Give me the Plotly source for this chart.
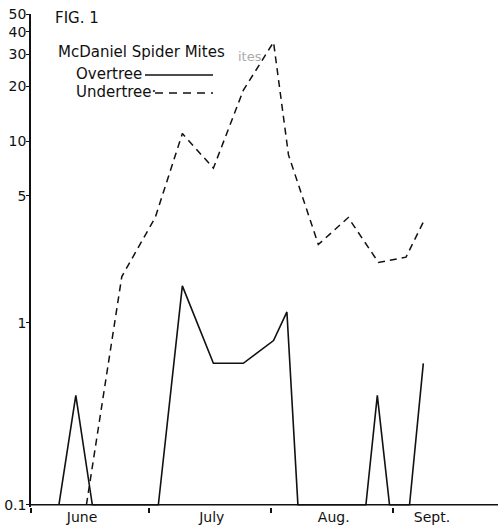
import plotly.graph_objects as go

# Days after 1 June for each reading, and mite counts per leaf (log scale).
# Readings of zero are drawn at the 0.1 floor of the axis.
overtree_day = [7.1, 11.4, 15.6, 32.4, 38.5, 46.4, 54.0, 61.7, 65.1, 67.9, 85.2, 88.1, 91.2, 96.3, 99.8]
overtree_mites = [0.1, 0.4, 0.1, 0.1, 1.6, 0.6, 0.6, 0.8, 1.15, 0.1, 0.1, 0.4, 0.1, 0.1, 0.6]

undertree_day = [14.1, 23.1, 31.6, 38.5, 46.4, 54.0, 61.7, 65.5, 73.1, 80.7, 88.4, 95.4, 100.1]
undertree_mites = [0.1, 1.8, 3.8, 11.0, 7.1, 19.0, 35.0, 8.4, 2.7, 3.8, 2.15, 2.3, 3.7]

# Month boundaries (ticks) and month label positions (days after 1 June)
month_starts = [0, 30, 61, 92]
month_label_days = [13, 46, 77, 102]
month_labels = ["June", "July", "Aug.", "Sept."]

y_ticks = [0.1, 1, 5, 10, 20, 30, 40, 50]
y_tick_text = ["0.1", "1", "5", "10", "20", "30", "40", "50"]
y_floor = 0.1

FONT = "DejaVu Sans"
INK = "#111111"

fig = go.Figure()
fig.add_trace(go.Scatter(
    x=overtree_day, y=overtree_mites, mode="lines", name="Overtree",
    line=dict(color=INK, width=1.6), showlegend=False,
))
fig.add_trace(go.Scatter(
    x=undertree_day, y=undertree_mites, mode="lines", name="Undertree",
    line=dict(color=INK, width=1.5, dash="7px,5px"), showlegend=False,
))
# invisible trace to carry the month-label axis
fig.add_trace(go.Scatter(
    x=[month_label_days[0]], y=[1], xaxis="x2", mode="markers",
    marker=dict(opacity=0), showlegend=False, hoverinfo="skip",
))

x_range = [0, 118.8]
fig.update_layout(
    width=498, height=532,
    margin=dict(l=31, r=0, t=14, b=25),
    paper_bgcolor="white", plot_bgcolor="white",
    font=dict(family=FONT, color=INK),
    xaxis=dict(
        range=x_range, tickvals=month_starts, ticktext=["", "", "", ""],
        ticks="outside", ticklen=5, tickwidth=1.5, tickcolor=INK,
        showline=False, showgrid=False, zeroline=False,
    ),
    xaxis2=dict(
        range=x_range, overlaying="x", side="bottom",
        tickvals=month_label_days, ticktext=month_labels,
        ticks="",
        tickfont=dict(family=FONT, size=14, color=INK),
        showline=False, showgrid=False, zeroline=False,
    ),
    yaxis=dict(
        type="log", range=[-1.012, 1.69897],
        tickvals=y_ticks, ticktext=y_tick_text,
        ticks="outside", ticklen=3, tickwidth=1.3, tickcolor=INK,
        ticklabelstandoff=-3,
        tickfont=dict(family=FONT, size=14, color=INK),
        showline=True, linecolor=INK, linewidth=1.5,
        showgrid=False, zeroline=False,
    ),
)

# horizontal axis line along the 0.1 floor, so zero readings sit on it
fig.add_shape(type="line", xref="paper", yref="y", layer="below",
              x0=0, x1=1, y0=y_floor, y1=y_floor,
              line=dict(color=INK, width=1.5))

def note(text, x, y, size, color=INK):
    fig.add_annotation(
        text=text, xref="paper", yref="paper", x=x, y=y,
        xanchor="left", yanchor="middle", showarrow=False,
        font=dict(family=FONT, size=size, color=color),
    )

def px_x(px):
    return (px - 31) / 467

def px_y(py):
    return (507 - py) / 493

note("FIG. 1", px_x(53), px_y(18), 15)
note("McDaniel Spider Mites", px_x(56), px_y(52), 15)
note("ites", px_x(236), px_y(56), 13, color="#ababab")
note("Overtree", px_x(74), px_y(74.5), 15)
note("Undertree·", px_x(74), px_y(91.5), 15)

# line samples beside the key
fig.add_shape(type="line", xref="paper", yref="paper",
              x0=px_x(145), x1=px_x(213), y0=px_y(75), y1=px_y(75),
              line=dict(color=INK, width=1.3))
fig.add_shape(type="line", xref="paper", yref="paper",
              x0=px_x(155), x1=px_x(213), y0=px_y(93), y1=px_y(93),
              line=dict(color=INK, width=1.3, dash="8px,6px"))

fig.write_html("out.html")
